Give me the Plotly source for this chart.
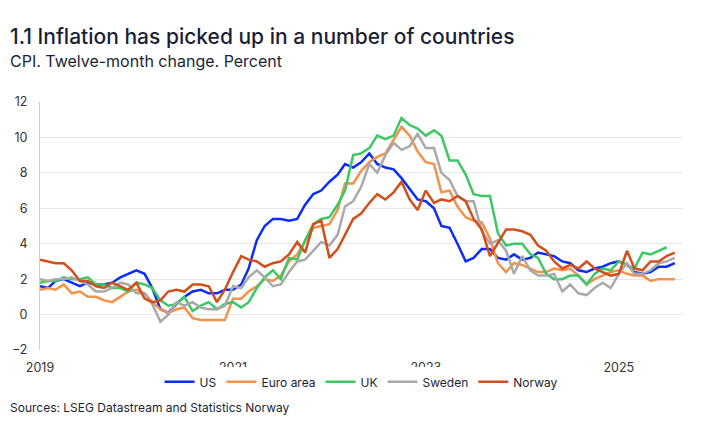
import pandas as pd
import plotly.graph_objects as go

dates = pd.date_range("2019-01-01", periods=80, freq="MS")

us = [1.6,1.5,1.9,2.0,1.8,1.6,1.8,1.7,1.7,1.8,2.1,2.3,
      2.5,2.3,1.5,0.3,0.1,0.6,1.0,1.3,1.4,1.2,1.2,1.4,
      1.4,1.7,2.6,4.2,5.0,5.4,5.4,5.3,5.4,6.2,6.8,7.0,
      7.5,7.9,8.5,8.3,8.6,9.1,8.5,8.3,8.2,7.7,7.1,6.5,
      6.4,6.0,5.0,4.9,4.0,3.0,3.2,3.7,3.7,3.2,3.1,3.4,
      3.1,3.2,3.5,3.4,3.3,3.0,2.9,2.5,2.4,2.6,2.7,2.9,
      3.0,2.8,2.4,2.3,2.4,2.7,2.7,2.9]

euro_area = [1.4,1.5,1.4,1.7,1.2,1.3,1.0,1.0,0.8,0.7,1.0,1.3,
             1.4,1.2,0.7,0.3,0.1,0.3,0.4,-0.2,-0.3,-0.3,-0.3,-0.3,
             0.9,0.9,1.3,1.6,2.0,1.9,2.2,3.0,3.4,4.1,4.9,5.0,
             5.1,5.9,7.4,7.4,8.1,8.6,8.9,9.1,9.9,10.6,10.1,9.2,
             8.6,8.5,6.9,7.0,6.1,5.5,5.3,5.2,4.3,2.9,2.4,2.9,
             2.8,2.6,2.4,2.4,2.6,2.5,2.6,2.2,1.7,2.0,2.2,2.4,
             2.5,2.3,2.2,2.2,1.9,2.0,2.0,2.0]

uk = [1.8,1.9,1.9,2.1,2.0,2.0,2.1,1.7,1.7,1.5,1.5,1.3,
      1.8,1.7,1.5,0.8,0.5,0.6,1.0,0.2,0.5,0.7,0.3,0.6,
      0.7,0.4,0.7,1.5,2.1,2.5,2.0,3.2,3.1,4.2,5.1,5.4,
      5.5,6.2,7.0,9.0,9.1,9.4,10.1,9.9,10.1,11.1,10.7,10.5,
      10.1,10.4,10.1,8.7,8.7,7.9,6.8,6.7,6.7,4.6,3.9,4.0,
      4.0,3.4,3.2,2.3,2.0,2.0,2.2,2.2,1.7,2.3,2.6,2.5,
      3.0,2.8,2.6,3.5,3.4,3.6,3.8]

sweden = [2.0,1.9,2.0,2.0,2.1,1.9,1.7,1.3,1.3,1.5,1.8,1.7,
          1.2,1.2,0.6,-0.4,0.0,0.7,0.5,0.7,0.4,0.3,0.3,0.5,
          1.6,1.5,2.1,2.5,2.1,1.6,1.7,2.4,3.0,3.1,3.6,4.1,
          3.9,4.5,6.1,6.4,7.2,8.5,8.0,9.0,9.7,9.3,9.5,10.2,
          9.4,9.4,8.0,7.6,6.7,6.4,6.4,4.7,4.0,4.2,3.6,2.3,
          3.3,2.5,2.2,2.2,2.3,1.3,1.7,1.2,1.1,1.5,1.8,1.5,
          2.3,2.9,2.3,2.3,2.5,2.9,3.0,3.2]

norway = [3.1,3.0,2.9,2.9,2.5,1.9,1.9,1.6,1.5,1.8,1.6,1.4,
          1.8,0.9,0.7,0.8,1.3,1.4,1.3,1.7,1.7,1.6,0.7,1.4,
          2.4,3.3,3.1,3.0,2.7,2.9,3.0,3.4,4.1,3.5,5.1,5.3,
          3.2,3.7,4.5,5.4,5.7,6.3,6.8,6.5,6.9,7.5,6.5,5.9,
          7.0,6.3,6.5,6.4,6.7,6.4,5.4,4.8,3.3,4.0,4.8,4.8,
          4.7,4.5,3.9,3.6,3.0,2.6,2.8,2.6,3.0,2.6,2.4,2.2,
          2.3,3.6,2.6,2.5,3.0,3.0,3.3,3.5]

series = [
    ("US", us, "#0a2dff"),
    ("Euro area", euro_area, "#f4914a"),
    ("UK", uk, "#3cc864"),
    ("Sweden", sweden, "#a9a9a9"),
    ("Norway", norway, "#d24f1c"),
]

year_ticks = ["2019-01-01", "2021-01-01", "2023-01-01", "2025-01-01"]
year_labels = ["2019", "2021", "2023", "2025"]
x_range = ["2019-01-01", "2025-09-01"]
y_min, y_max = -2, 12

FONT = "Inter"
TXT = "#1a1f36"

fig = go.Figure()
for name, vals, col in series:
    fig.add_trace(go.Scatter(x=dates[:len(vals)], y=vals, name=name, mode="lines",
                             line=dict(color=col, width=2.5)))

# page body has an 8px margin, so the figure is offset by 8px
W, H = 714, 429
ML, MR, MT, MB = 32, 39, 94, 87
fig.update_layout(
    width=W, height=H,
    margin=dict(l=ML, r=MR, t=MT, b=MB, autoexpand=False),
    paper_bgcolor="white", plot_bgcolor="white",
    font=dict(family=FONT, size=12, color="#333333"),
    showlegend=True,
    legend=dict(orientation="h", x=0.5, xanchor="center", y=-0.07, yanchor="top",
                font=dict(size=12, color=TXT), itemwidth=30, tracegroupgap=0),
    xaxis=dict(type="date", range=x_range, tickvals=year_ticks, ticktext=year_labels,
               showgrid=False, showline=False, zeroline=False, automargin=False,
               ticks="outside", ticklen=6, tickcolor="rgba(0,0,0,0)",
               tickfont=dict(size=12.5, color="#333333")),
    xaxis2=dict(type="date", range=x_range, tickvals=year_ticks, overlaying="x",
                anchor="free", position=(0 - y_min) / (y_max - y_min), automargin=False,
                showgrid=False, showline=True, linecolor="#cfcfcf", linewidth=1,
                ticks="inside", ticklen=5, tickcolor="#cfcfcf", showticklabels=False,
                zeroline=False),
    yaxis=dict(range=[y_min, y_max], dtick=2, showgrid=True, gridcolor="#e8e8e8",
               showline=True, linecolor="#cfcfcf", zeroline=False, automargin=False,
               ticks="outside", ticklen=9, tickcolor="rgba(0,0,0,0)",
               tickfont=dict(size=12.5, color="#333333")),
)

ph = H - MT - MB
pw = W - ML - MR
top = 8 + MT
left = 8 + ML
def px_x(x):
    return (x - left) / pw
def px_y(y):
    return (top + ph - y) / ph

fig.add_annotation(text="1.1 Inflation has picked up in a number of countries",
                   xref="paper", yref="paper", x=px_x(8), y=px_y(36),
                   xanchor="left", yanchor="middle", showarrow=False,
                   font=dict(family=FONT, size=21, color=TXT, weight=500))
fig.add_annotation(text="CPI. Twelve-month change. Percent",
                   xref="paper", yref="paper", x=px_x(8), y=px_y(61),
                   xanchor="left", yanchor="middle", showarrow=False,
                   font=dict(family=FONT, size=16, color=TXT))
fig.add_annotation(text="Sources: LSEG Datastream and Statistics Norway",
                   xref="paper", yref="paper", x=px_x(8), y=px_y(407),
                   xanchor="left", yanchor="middle", showarrow=False,
                   font=dict(family=FONT, size=12, color=TXT))

fig.write_html("out.html")
